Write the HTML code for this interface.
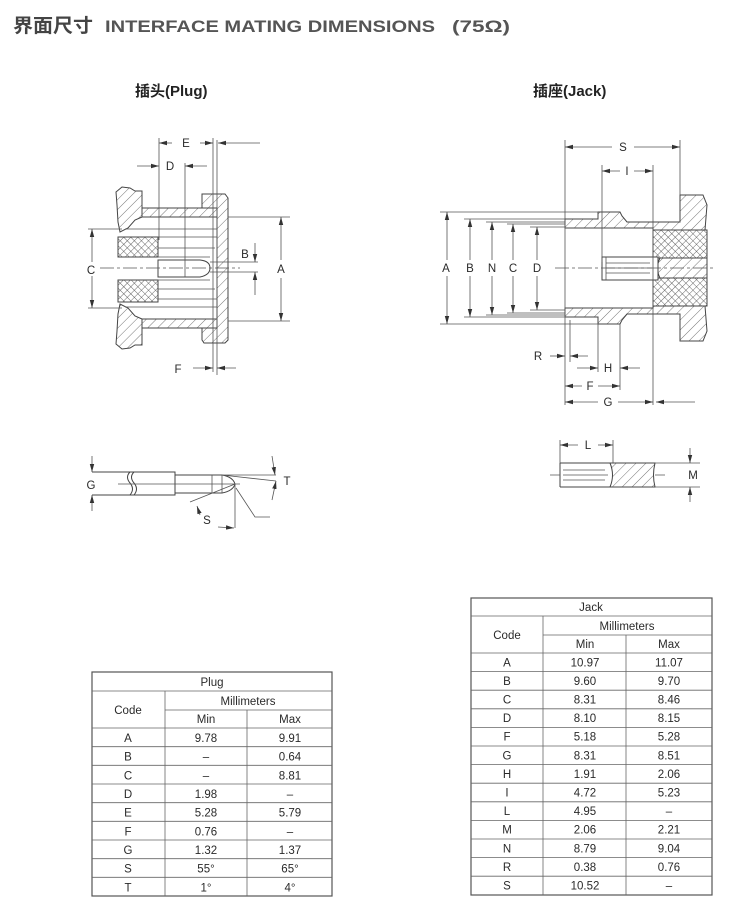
<!DOCTYPE html>
<html><head><meta charset="utf-8"><style>
body{margin:0;background:#fff;width:730px;height:918px;overflow:hidden}
svg{display:block}
text{font-family:"Liberation Sans","Noto Sans CJK SC",sans-serif;fill:#333}
.l{stroke:#555;stroke-width:0.8;fill:none}
.o{stroke:#444;stroke-width:1;fill:#fff}
.t{font-size:11.5px;fill:#2a2a2a;text-anchor:middle}
.g{stroke:#666;stroke-width:0.8}
</style></head><body>
<svg width="730" height="918" viewBox="0 0 730 918">
<defs>
<pattern id="h" width="7" height="7" patternUnits="userSpaceOnUse" patternTransform="rotate(45)"><rect width="7" height="7" fill="#fff"/><line x1="0" y1="0" x2="0" y2="7" stroke="#555" stroke-width="0.8"/></pattern>
<pattern id="x" width="5" height="5" patternUnits="userSpaceOnUse" patternTransform="rotate(45)"><rect width="5" height="5" fill="#fff"/><line x1="0" y1="0" x2="0" y2="5" stroke="#444" stroke-width="0.8"/><line x1="0" y1="0" x2="5" y2="0" stroke="#444" stroke-width="0.8"/></pattern>
<marker id="a" markerWidth="8" markerHeight="6" refX="8" refY="3" orient="auto" markerUnits="userSpaceOnUse"><path d="M0,0.8 L8,3 L0,5.2z" fill="#333"/></marker>
</defs>

<text x="13" y="32" textLength="80" lengthAdjust="spacingAndGlyphs" style="font-size:19px;font-weight:bold;fill:#444">界面尺寸</text>
<text x="105" y="32" textLength="330" lengthAdjust="spacingAndGlyphs" style="font-size:17px;font-weight:bold;fill:#555">INTERFACE MATING DIMENSIONS</text>
<text x="452" y="32" textLength="58" lengthAdjust="spacingAndGlyphs" style="font-size:17px;font-weight:bold;fill:#555">(75Ω)</text>
<text x="135" y="96" style="font-size:15px;font-weight:bold;fill:#222">插头(Plug)</text>
<text x="533" y="96" style="font-size:15px;font-weight:bold;fill:#222">插座(Jack)</text>

<!-- PLUG -->
<g>
<rect x="142" y="208" width="75" height="9" fill="url(#h)" stroke="#444"/>
<rect x="142" y="319" width="75" height="9" fill="url(#h)" stroke="#444"/>
<polygon points="202,194 225,194 228,198 228,340 225,343 204,343 202,340 202,328 217,328 217,208 202,208" fill="url(#h)" stroke="#444"/>
<polygon points="116,192 122,187 130,188 135,191 142,191 142,217 135,220 128,228 120,232 118,222 117,205" fill="url(#h)" stroke="#444"/>
<polygon points="116,344 122,349 130,348 135,345 142,345 142,319 135,316 128,308 120,304 118,314 117,331" fill="url(#h)" stroke="#444"/>
<rect x="118" y="237" width="40" height="20" fill="url(#x)" stroke="#444"/>
<rect x="118" y="280" width="40" height="22" fill="url(#x)" stroke="#444"/>
<path class="l" d="M125,229 H217 M158,237 H217 M158,248 H215 M158,257 H210 M158,280 H210 M158,289 H215 M158,299 H217 M125,307 H217"/>
<path class="o" d="M158,260 H200 Q210,261 210,268 Q210,275 200,277 H158Z"/>
<line class="l" x1="185" y1="260" x2="185" y2="277"/>
<path class="l" d="M100,268 H240" stroke-dasharray="14,3,3,3"/>
<path class="l" d="M159,138 V240 M213,138 V372 M217,140 V375 M185,163 V260 M228,217 H290 M228,321 H290 M210,262 H258 M210,272 H258 M88,229 H122 M88,308 H122"/>
<line class="l" x1="172" y1="143" x2="159" y2="143" marker-end="url(#a)"/>
<line class="l" x1="200" y1="143" x2="213" y2="143" marker-end="url(#a)"/>
<line class="l" x1="260" y1="143" x2="218" y2="143" marker-end="url(#a)"/>
<text class="t" x="186" y="147">E</text>
<line class="l" x1="137" y1="166" x2="159" y2="166" marker-end="url(#a)"/>
<text class="t" x="170" y="170">D</text>
<line class="l" x1="207" y1="166" x2="185" y2="166" marker-end="url(#a)"/>
<line class="l" x1="281" y1="260" x2="281" y2="217" marker-end="url(#a)"/>
<line class="l" x1="281" y1="278" x2="281" y2="321" marker-end="url(#a)"/>
<text class="t" x="281" y="273">A</text>
<line class="l" x1="255" y1="243" x2="255" y2="262" marker-end="url(#a)"/>
<line class="l" x1="255" y1="295" x2="255" y2="272" marker-end="url(#a)"/>
<text class="t" x="245" y="258">B</text>
<line class="l" x1="92" y1="262" x2="92" y2="229" marker-end="url(#a)"/>
<line class="l" x1="92" y1="276" x2="92" y2="308" marker-end="url(#a)"/>
<text class="t" x="91" y="274">C</text>
<line class="l" x1="193" y1="368" x2="213" y2="368" marker-end="url(#a)"/>
<line class="l" x1="236" y1="368" x2="217" y2="368" marker-end="url(#a)"/>
<text class="t" x="178" y="373">F</text>
</g>

<!-- JACK -->
<g>
<polygon points="565,219 598,219 598,212 620,212 622,216 627,222 680,222 680,195 703,195 707,205 705,230 653,230 653,228 565,228" fill="url(#h)" stroke="#444"/>
<polygon points="565,317 598,317 598,324 620,324 622,320 627,314 680,314 680,341 703,341 707,331 705,306 653,306 653,308 565,308" fill="url(#h)" stroke="#444"/>
<rect x="653" y="230" width="54" height="28" fill="url(#x)" stroke="#444"/>
<rect x="653" y="278" width="54" height="28" fill="url(#x)" stroke="#444"/>
<path d="M660,258 H707 V278 H660 Q655,268 660,258Z" fill="url(#h)" stroke="#444"/>
<rect x="602" y="257" width="56" height="23" fill="#fff" stroke="#444"/>
<path class="l" d="M606,263 H650 M606,268 H652 M606,273 H650 M606,257 V280"/>
<path class="l" d="M555,268 H715" stroke-dasharray="14,3,3,3"/>
<path class="l" d="M565,140 V405 M680,140 V195 M602,165 V262 M653,165 V405 M598,324 V372 M620,324 V390 M440,212 H598 M464,219 H565 M486,222 H565 M507,224 H565 M530,227 H565 M440,324 H598 M464,317 H565 M486,315 H565 M507,313 H565 M530,310 H565"/>
<line class="l" x1="612" y1="147" x2="565" y2="147" marker-end="url(#a)"/>
<line class="l" x1="634" y1="147" x2="680" y2="147" marker-end="url(#a)"/>
<text class="t" x="623" y="151">S</text>
<line class="l" x1="620" y1="171" x2="602" y2="171" marker-end="url(#a)"/>
<line class="l" x1="634" y1="171" x2="653" y2="171" marker-end="url(#a)"/>
<text class="t" x="627" y="175">I</text>
<g>
<line class="l" x1="447" y1="260" x2="447" y2="212" marker-end="url(#a)"/><line class="l" x1="447" y1="276" x2="447" y2="324" marker-end="url(#a)"/><text class="t" x="446" y="272">A</text>
<line class="l" x1="470" y1="260" x2="470" y2="219" marker-end="url(#a)"/><line class="l" x1="470" y1="276" x2="470" y2="317" marker-end="url(#a)"/><text class="t" x="470" y="272">B</text>
<line class="l" x1="492" y1="260" x2="492" y2="222" marker-end="url(#a)"/><line class="l" x1="492" y1="276" x2="492" y2="315" marker-end="url(#a)"/><text class="t" x="492" y="272">N</text>
<line class="l" x1="513" y1="260" x2="513" y2="224" marker-end="url(#a)"/><line class="l" x1="513" y1="276" x2="513" y2="313" marker-end="url(#a)"/><text class="t" x="513" y="272">C</text>
<line class="l" x1="537" y1="260" x2="537" y2="227" marker-end="url(#a)"/><line class="l" x1="537" y1="276" x2="537" y2="310" marker-end="url(#a)"/><text class="t" x="537" y="272">D</text>
</g>
<line class="l" x1="550" y1="356" x2="565" y2="356" marker-end="url(#a)"/>
<line class="l" x1="588" y1="356" x2="570" y2="356" marker-end="url(#a)"/>
<text class="t" x="538" y="360">R</text>
<path class="l" d="M570,320 V362"/>
<line class="l" x1="577" y1="368" x2="598" y2="368" marker-end="url(#a)"/>
<line class="l" x1="640" y1="368" x2="620" y2="368" marker-end="url(#a)"/>
<text class="t" x="608" y="372">H</text>
<line class="l" x1="582" y1="386" x2="565" y2="386" marker-end="url(#a)"/>
<line class="l" x1="598" y1="386" x2="620" y2="386" marker-end="url(#a)"/>
<text class="t" x="590" y="390">F</text>
<line class="l" x1="598" y1="402" x2="565" y2="402" marker-end="url(#a)"/>
<line class="l" x1="618" y1="402" x2="653" y2="402" marker-end="url(#a)"/>
<line class="l" x1="695" y1="402" x2="656" y2="402" marker-end="url(#a)"/>
<text class="t" x="608" y="406">G</text>
</g>

<!-- plug pin -->
<g>
<path class="o" d="M92,472 H175 V495 H92"/>
<path class="o" d="M130,472 q-5,5 0,11 q5,6 0,12 M134,472 q-5,5 0,11 q5,6 0,12" fill="none"/>
<path class="o" d="M175,475 H222 Q233,477 235,484 Q233,491 222,493 H175Z"/>
<line class="l" x1="212" y1="475" x2="212" y2="493"/><line class="l" x1="222" y1="475" x2="222" y2="493"/>
<path class="l" d="M118,484 H240 M222,475 H276 M222,475 L276,481 M235,484 L190,502 M235,484 L235,528 M236,488 L255,517 H270"/>
<line class="l" x1="92" y1="456" x2="92" y2="472" marker-end="url(#a)"/>
<line class="l" x1="92" y1="511" x2="92" y2="495" marker-end="url(#a)"/>
<text class="t" x="91" y="489">G</text>
<line class="l" x1="272" y1="456" x2="275" y2="475" marker-end="url(#a)"/>
<line class="l" x1="272" y1="500" x2="276" y2="481" marker-end="url(#a)"/>
<text class="t" x="287" y="485">T</text>
<line class="l" x1="200" y1="515" x2="197" y2="506" marker-end="url(#a)"/>
<line class="l" x1="218" y1="527" x2="234" y2="528" marker-end="url(#a)"/>
<text class="t" x="207" y="524">S</text>
</g>

<!-- jack small -->
<g>
<path d="M610,463 H655 Q652,475 655,487 H610 Q615,475 610,463Z" fill="url(#h)" stroke="#444"/>
<path class="o" d="M560,463 H612 M560,487 H612 M560,463 V487" fill="none"/>
<path class="l" d="M563,470 H605 M563,475 H608 M563,480 H605 M550,475 H560 M655,475 H665 M560,440 V463 M613,440 V463 M655,463 H700 M655,487 H700"/>
<line class="l" x1="578" y1="445" x2="560" y2="445" marker-end="url(#a)"/>
<line class="l" x1="598" y1="445" x2="613" y2="445" marker-end="url(#a)"/>
<text class="t" x="588" y="449">L</text>
<line class="l" x1="690" y1="448" x2="690" y2="463" marker-end="url(#a)"/>
<line class="l" x1="690" y1="502" x2="690" y2="487" marker-end="url(#a)"/>
<text class="t" x="693" y="479">M</text>
</g>

<!-- plug table -->
<g>
<rect x="92" y="672" width="240" height="224" fill="none" stroke="#555" stroke-width="1.2"/>
<path class="g" d="M92,691 H332 M165,710 H332 M92,728 H332 M92,746.7 H332 M92,765.3 H332 M92,784 H332 M92,802.7 H332 M92,821.3 H332 M92,840 H332 M92,858.7 H332 M92,877.3 H332 M165,691 V896 M247,710 V896"/>
<text class="t" x="212" y="686">Plug</text>
<text class="t" x="248" y="705">Millimeters</text>
<text class="t" x="128" y="714">Code</text>
<text class="t" x="206" y="723">Min</text>
<text class="t" x="290" y="723">Max</text>
<text class="t" x="128" y="742">A</text><text class="t" x="206" y="742">9.78</text><text class="t" x="290" y="742">9.91</text>
<text class="t" x="128" y="760.7">B</text><text class="t" x="206" y="760.7">–</text><text class="t" x="290" y="760.7">0.64</text>
<text class="t" x="128" y="779.3">C</text><text class="t" x="206" y="779.3">–</text><text class="t" x="290" y="779.3">8.81</text>
<text class="t" x="128" y="798">D</text><text class="t" x="206" y="798">1.98</text><text class="t" x="290" y="798">–</text>
<text class="t" x="128" y="816.7">E</text><text class="t" x="206" y="816.7">5.28</text><text class="t" x="290" y="816.7">5.79</text>
<text class="t" x="128" y="835.3">F</text><text class="t" x="206" y="835.3">0.76</text><text class="t" x="290" y="835.3">–</text>
<text class="t" x="128" y="854">G</text><text class="t" x="206" y="854">1.32</text><text class="t" x="290" y="854">1.37</text>
<text class="t" x="128" y="872.7">S</text><text class="t" x="206" y="872.7">55°</text><text class="t" x="290" y="872.7">65°</text>
<text class="t" x="128" y="891.3">T</text><text class="t" x="206" y="891.3">1°</text><text class="t" x="290" y="891.3">4°</text>
</g>

<!-- jack table -->
<g>
<rect x="471" y="598" width="241" height="297" fill="none" stroke="#555" stroke-width="1.2"/>
<path class="g" d="M471,616 H712 M543,635 H712 M471,653 H712 M471,671.6 H712 M471,690.2 H712 M471,708.8 H712 M471,727.4 H712 M471,746 H712 M471,764.6 H712 M471,783.2 H712 M471,801.8 H712 M471,820.4 H712 M471,839 H712 M471,857.6 H712 M471,876.2 H712 M543,616 V895 M626,635 V895"/>
<text class="t" x="591" y="611">Jack</text>
<text class="t" x="627" y="630">Millimeters</text>
<text class="t" x="507" y="639">Code</text>
<text class="t" x="585" y="648">Min</text>
<text class="t" x="669" y="648">Max</text>
<text class="t" x="507" y="666.3">A</text><text class="t" x="585" y="666.3">10.97</text><text class="t" x="669" y="666.3">11.07</text>
<text class="t" x="507" y="684.9">B</text><text class="t" x="585" y="684.9">9.60</text><text class="t" x="669" y="684.9">9.70</text>
<text class="t" x="507" y="703.5">C</text><text class="t" x="585" y="703.5">8.31</text><text class="t" x="669" y="703.5">8.46</text>
<text class="t" x="507" y="722.1">D</text><text class="t" x="585" y="722.1">8.10</text><text class="t" x="669" y="722.1">8.15</text>
<text class="t" x="507" y="740.7">F</text><text class="t" x="585" y="740.7">5.18</text><text class="t" x="669" y="740.7">5.28</text>
<text class="t" x="507" y="759.3">G</text><text class="t" x="585" y="759.3">8.31</text><text class="t" x="669" y="759.3">8.51</text>
<text class="t" x="507" y="777.9">H</text><text class="t" x="585" y="777.9">1.91</text><text class="t" x="669" y="777.9">2.06</text>
<text class="t" x="507" y="796.5">I</text><text class="t" x="585" y="796.5">4.72</text><text class="t" x="669" y="796.5">5.23</text>
<text class="t" x="507" y="815.1">L</text><text class="t" x="585" y="815.1">4.95</text><text class="t" x="669" y="815.1">–</text>
<text class="t" x="507" y="833.7">M</text><text class="t" x="585" y="833.7">2.06</text><text class="t" x="669" y="833.7">2.21</text>
<text class="t" x="507" y="852.3">N</text><text class="t" x="585" y="852.3">8.79</text><text class="t" x="669" y="852.3">9.04</text>
<text class="t" x="507" y="870.9">R</text><text class="t" x="585" y="870.9">0.38</text><text class="t" x="669" y="870.9">0.76</text>
<text class="t" x="507" y="889.5">S</text><text class="t" x="585" y="889.5">10.52</text><text class="t" x="669" y="889.5">–</text>
</g>
</svg>
</body></html>
